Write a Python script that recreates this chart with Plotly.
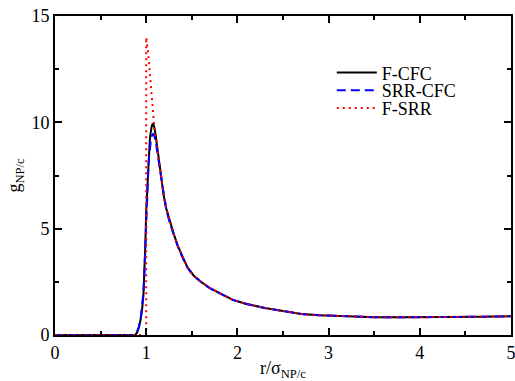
import plotly.graph_objects as go

# F-CFC
r_fcfc = [0, 0.88, 0.90, 0.92, 0.94, 0.955, 0.97, 0.98, 0.99, 1.0, 1.008, 1.015, 1.023, 1.03, 1.038, 1.045,
          1.052, 1.06, 1.068, 1.075, 1.082, 1.09, 1.105, 1.125, 1.145, 1.165, 1.19, 1.22, 1.26, 1.30,
          1.35, 1.40, 1.45, 1.52, 1.60, 1.70, 1.80, 1.95, 2.10, 2.30, 2.50, 2.70, 2.90, 3.20, 3.50,
          3.80, 4.10, 4.40, 4.70, 5.00]
g_fcfc = [0, 0, 0.12, 0.35, 0.75, 1.2, 1.9, 2.8, 4.2, 5.8, 6.65, 7.4, 8.05, 8.6, 9.05, 9.4,
          9.65, 9.8, 9.9, 9.92, 9.87, 9.75, 9.35, 8.7, 7.95, 7.25, 6.6, 5.95, 5.3, 4.78,
          4.15, 3.65, 3.2, 2.8, 2.5, 2.2, 1.98, 1.65, 1.46, 1.27, 1.13, 0.99, 0.93, 0.87, 0.84,
          0.83, 0.83, 0.84, 0.86, 0.88]

# SRR-CFC
r_srrcfc = r_fcfc
g_srrcfc = [0, 0, 0.15, 0.4, 0.8, 1.3, 2.0, 2.9, 4.2, 5.7, 6.5, 7.2, 7.8, 8.3, 8.7, 9.0,
            9.2, 9.35, 9.43, 9.45, 9.42, 9.35, 9.05, 8.5, 7.85, 7.2, 6.55, 5.9, 5.25, 4.74,
            4.12, 3.63, 3.18, 2.78, 2.49, 2.19, 1.97, 1.65, 1.46, 1.27, 1.13, 0.99, 0.93, 0.87, 0.84,
            0.83, 0.83, 0.84, 0.86, 0.88]

# F-SRR
r_fsrr = [0, 1.0, 1.0, 1.02, 1.04, 1.06, 1.08, 1.09, 1.105, 1.125, 1.145, 1.165, 1.19, 1.22, 1.26,
          1.30, 1.35, 1.40, 1.45, 1.52, 1.60, 1.70, 1.80, 1.95, 2.10, 2.30, 2.50, 2.70, 2.90,
          3.20, 3.50, 3.80, 4.10, 4.40, 4.70, 5.00]
g_fsrr = [0, 0, 14.0, 13.3, 12.3, 11.1, 9.95, 9.72, 9.35, 8.7, 7.95, 7.25, 6.6, 5.95, 5.3,
          4.78, 4.15, 3.65, 3.2, 2.8, 2.5, 2.2, 1.98, 1.65, 1.46, 1.27, 1.13, 0.99, 0.93,
          0.87, 0.84, 0.83, 0.83, 0.84, 0.86, 0.88]

FONT = "Liberation Serif, Times New Roman, serif"

fig = go.Figure()
fig.add_trace(go.Scatter(x=r_fcfc, y=g_fcfc, mode="lines", name="F-CFC", legend="legend",
                         line=dict(color="black", width=2)))
fig.add_trace(go.Scatter(x=r_srrcfc, y=g_srrcfc, mode="lines", name="SRR-CFC", legend="legend2",
                         line=dict(color="#0000ff", width=2, dash="9px,5px")))
fig.add_trace(go.Scatter(x=r_fsrr, y=g_fsrr, mode="lines", name="F-SRR", legend="legend3",
                         line=dict(color="#ff0000", width=2, dash="2px,4px")))

axis_common = dict(
    showgrid=False, zeroline=False, showline=True, linecolor="black", linewidth=2,
    mirror="ticks", ticks="inside", ticklen=7, tickwidth=1.5, tickcolor="black",
    tickfont=dict(family=FONT, size=18, color="black"), automargin=False,
    ticklabeloverflow="allow",
)

leg = dict(x=0.607, xanchor="left", yanchor="middle", bgcolor="rgba(0,0,0,0)",
           font=dict(family=FONT, size=18, color="black"), itemwidth=40)

fig.update_layout(
    width=515, height=381,
    margin=dict(l=55, r=4, t=16, b=46),
    paper_bgcolor="white", plot_bgcolor="white",
    font=dict(family=FONT, size=18, color="black"),
    showlegend=True,
    legend=dict(y=0.822, **leg),
    legend2=dict(y=0.766, **leg),
    legend3=dict(y=0.711, **leg),
)
fig.update_xaxes(range=[0, 5], dtick=1, tick0=0,
                 minor=dict(dtick=0.5, ticks="inside", ticklen=4, tickcolor="black", tickwidth=1.5),
                 title=dict(text="r/σ<sub>NP/c</sub>", font=dict(family=FONT, size=18), standoff=4),
                 **axis_common)
fig.update_yaxes(range=[0, 15], dtick=5, tick0=0,
                 minor=dict(dtick=2.5, ticks="inside", ticklen=4, tickcolor="black", tickwidth=1.5),
                 title=dict(text="g<sub>NP/c</sub>", font=dict(family=FONT, size=18), standoff=6),
                 **axis_common)

fig.write_html("out.html", config={"displayModeBar": False},
               post_script="document.body.style.margin='0';document.body.style.overflow='hidden';")
